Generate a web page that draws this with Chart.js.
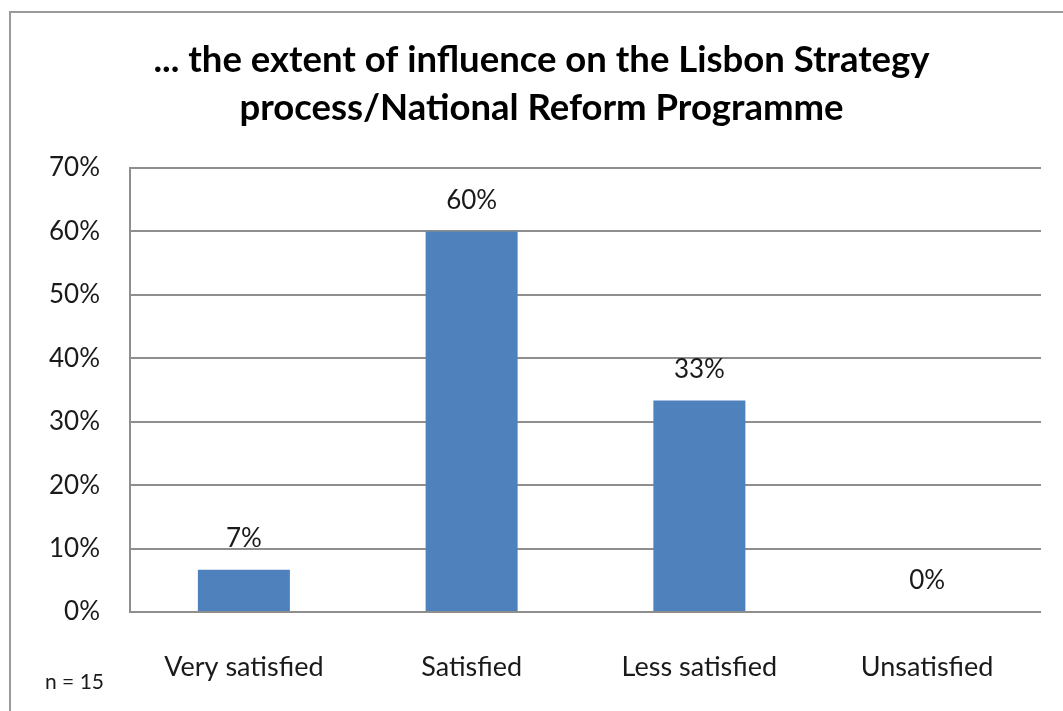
<!DOCTYPE html>
<html>
<head>
<meta charset="utf-8">
<script src="https://cdn.jsdelivr.net/npm/chart.js@4/dist/chart.umd.min.js"></script>
<style>
  html,body{margin:0;padding:0;background:#fff;}
  #wrap{width:1063px;height:711px;position:relative;}
</style>
</head>
<body>
<div id="wrap"><canvas id="surveyChart" width="1063" height="711"></canvas></div>
<script>
// n = 15 respondents
const categories = ["Very satisfied", "Satisfied", "Less satisfied", "Unsatisfied"];
const shares = [6.67, 60, 33.33, 0];
const titleLines = ["... the extent of influence on the Lisbon Strategy", "process/National Reform Programme"];
const footNote = "n = 15";

const FONT = "Lato, 'Open Sans', sans-serif";
const gridColor = "#8e8e8e";

const frame = {
    id: "frame",
    beforeDraw(chart){
        const c = chart.ctx;
        c.save();
        c.fillStyle = "#fff";
        c.fillRect(0, 0, chart.width, chart.height);
        c.strokeStyle = "#9a9a9a";
        c.lineWidth = 2;
        c.beginPath();
        c.moveTo(10, chart.height + 5);
        c.lineTo(10, 12);
        c.lineTo(chart.width + 5, 12);
        c.stroke();
        c.restore();
    },
    afterDraw(chart){
        const c = chart.ctx;
        c.save();
        c.fillStyle = "#1a1a1a";
        c.font = "21px " + FONT;
        c.textAlign = "left";
        c.textBaseline = "middle";
        c.fillText(footNote, 45, 682);
        c.restore();
    }
};

const barLabels = {
    id: "barLabels",
    afterDatasetsDraw(chart){
        const c = chart.ctx;
        const meta = chart.getDatasetMeta(0);
        c.save();
        c.fillStyle = "#1a1a1a";
        c.font = "26px " + FONT;
        c.textAlign = "center";
        c.textBaseline = "middle";
        meta.data.forEach((bar, i) => {
            c.fillText(Math.round(shares[i]) + "%", bar.x, bar.y - 31);
        });
        c.restore();
    }
};

new Chart(document.getElementById("surveyChart").getContext("2d"), {
    type: "bar",
    data: {
        labels: categories,
        datasets: [{
            data: shares,
            backgroundColor: "#4f81bd",
            borderWidth: 0,
            categoryPercentage: 1,
            barPercentage: 0.404
        }]
    },
    options: {
        responsive: false,
        animation: false,
        layout: { padding: { left: 42, right: 22, top: 0, bottom: 0 } },
        plugins: {
            legend: { display: false },
            tooltip: { enabled: false },
            title: {
                display: true,
                text: titleLines,
                color: "#000",
                font: { family: FONT, size: 36.5, weight: "bold", lineHeight: 1.315 },
                padding: { top: 36, bottom: 36 }
            }
        },
        scales: {
            x: {
                grid: { display: false },
                border: { display: false },
                ticks: {
                    color: "#1a1a1a",
                    font: { family: FONT, size: 27 },
                    padding: 31,
                    maxRotation: 0
                },
                afterFit(scale){ scale.height = 99; }
            },
            y: {
                min: 0,
                max: 70,
                grid: { color: gridColor, lineWidth: 2, drawTicks: false },
                border: { display: true, color: gridColor, width: 2 },
                ticks: {
                    stepSize: 10,
                    color: "#1a1a1a",
                    font: { family: FONT, size: 26 },
                    padding: 30,
                    callback: v => v + "%"
                },
                afterFit(scale){ scale.width = 88; }
            }
        }
    },
    plugins: [frame, barLabels]
});
</script>
</body>
</html>
